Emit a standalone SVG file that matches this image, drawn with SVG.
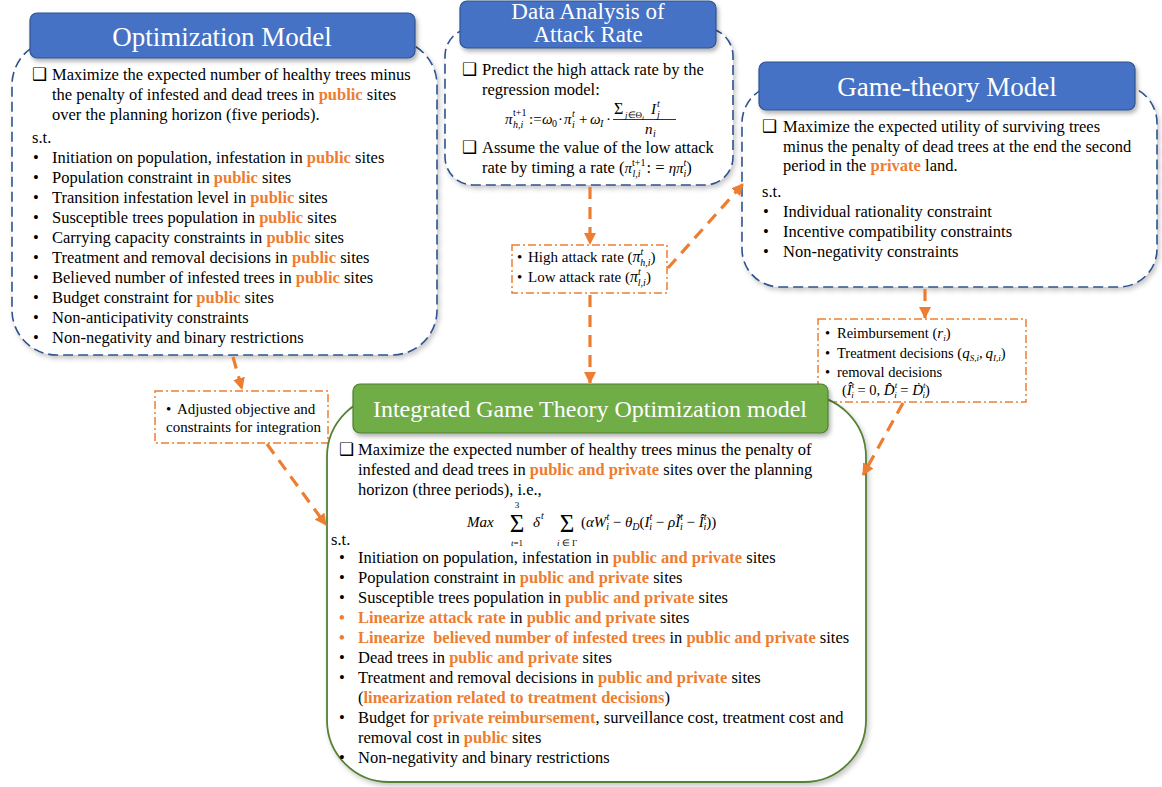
<svg xmlns="http://www.w3.org/2000/svg" width="1162" height="787" viewBox="0 0 1162 787">
  <defs>
    <style>
      .t { font-family: "Liberation Serif", "Times New Roman", serif; font-size: 16.5px; fill: #000; }
      .sm { font-size: 15px; }
      .xs { font-size: 14.5px; }
      .o { fill: #ED7D31; font-weight: bold; }
      .ttl { font-family: "Liberation Serif", "Times New Roman", serif; fill: #fff; text-anchor: middle; }
      .cb { font-family: "DejaVu Sans", sans-serif; font-size: 17px; fill: #000; }
      .m { font-family: "Liberation Serif", "Times New Roman", serif; font-style: italic; font-size: 15px; fill: #000; }
      .n { font-style: normal; }
      .s { font-size: 10px; }
      .ss { font-size: 9px; }
      .mid { text-anchor: middle; }
      .big { font-size: 25px; font-style: normal; }
      .blueTitle { fill: #4472C4; stroke: #2F528F; stroke-width: 1.2; }
      .greenTitle { fill: #70AD47; stroke: #507E32; stroke-width: 1.2; }
      .dashBody { fill: #fff; stroke: #2F528F; stroke-width: 1.6; stroke-dasharray: 10 5; }
      .solidBody { fill: #fff; stroke: #548235; stroke-width: 1.8; }
      .note { fill: #fff; stroke: #ED7D31; stroke-width: 1.5; stroke-dasharray: 8 3 2 3; }
      .link { fill: none; stroke: #ED7D31; stroke-width: 3.2; stroke-dasharray: 12 8; }
    </style>
    <filter id="shadow" x="-10%" y="-10%" width="125%" height="130%">
      <feDropShadow dx="2" dy="3" stdDeviation="2" flood-color="#000" flood-opacity="0.3"/>
    </filter>
    <filter id="softShadow" x="-10%" y="-10%" width="125%" height="130%">
      <feDropShadow dx="2" dy="3" stdDeviation="2.5" flood-color="#000" flood-opacity="0.22"/>
    </filter>
    <marker id="arrow" viewBox="0 0 12 12" refX="11" refY="6" markerWidth="12" markerHeight="12" markerUnits="userSpaceOnUse" orient="auto">
      <path d="M0,0 L12,6 L0,12 z" fill="#ED7D31"/>
    </marker>
  </defs>

  <rect width="1162" height="787" fill="#fff"/>

  <!-- Optimization model -->
  <g id="optimization-model">
    <rect class="dashBody" x="12" y="40" width="425" height="315" rx="45" filter="url(#softShadow)"/>
    <rect class="blueTitle" x="30" y="13" width="385" height="45" rx="7" filter="url(#shadow)"/>
    <text class="ttl" x="222" y="45.5" font-size="27">Optimization Model</text>
    <text class="cb" x="32" y="80">❑</text>
    <text class="t" x="52" y="80">Maximize the expected number of healthy trees minus</text>
    <text class="t" x="52" y="100">the penalty of infested and dead trees in <tspan class="o">public</tspan> sites</text>
    <text class="t" x="52" y="120">over the planning horizon (five periods).</text>
    <text class="t" x="32" y="143">s.t.</text>
    <text class="t" x="33" y="163">•</text><text class="t" x="52" y="163">Initiation on population, infestation in <tspan class="o">public</tspan> sites</text>
    <text class="t" x="33" y="183">•</text><text class="t" x="52" y="183">Population constraint in <tspan class="o">public</tspan> sites</text>
    <text class="t" x="33" y="203">•</text><text class="t" x="52" y="203">Transition infestation level in <tspan class="o">public</tspan> sites</text>
    <text class="t" x="33" y="223">•</text><text class="t" x="52" y="223">Susceptible trees population in <tspan class="o">public</tspan> sites</text>
    <text class="t" x="33" y="243">•</text><text class="t" x="52" y="243">Carrying capacity constraints in <tspan class="o">public</tspan> sites</text>
    <text class="t" x="33" y="263">•</text><text class="t" x="52" y="263">Treatment and removal decisions in <tspan class="o">public</tspan> sites</text>
    <text class="t" x="33" y="283">•</text><text class="t" x="52" y="283">Believed number of infested trees in <tspan class="o">public</tspan> sites</text>
    <text class="t" x="33" y="303">•</text><text class="t" x="52" y="303">Budget constraint for <tspan class="o">public</tspan> sites</text>
    <text class="t" x="33" y="323">•</text><text class="t" x="52" y="323">Non-anticipativity constraints</text>
    <text class="t" x="33" y="343">•</text><text class="t" x="52" y="343">Non-negativity and binary restrictions</text>
  </g>

  <!-- Data analysis of attack rate -->
  <g id="data-analysis">
    <rect class="dashBody" x="445" y="28" width="288" height="157" rx="28" filter="url(#softShadow)"/>
    <rect class="blueTitle" x="460" y="1" width="256" height="47" rx="7" filter="url(#shadow)"/>
    <text class="ttl" x="588" y="19" font-size="23">Data Analysis of</text>
    <text class="ttl" x="588" y="42" font-size="23">Attack Rate</text>
    <text class="cb" x="462" y="75">❑</text>
    <text class="t" x="482" y="75">Predict the high attack rate by the</text>
    <text class="t" x="482" y="95">regression model:</text>
    <!-- regression formula -->
    <text class="m" x="505" y="124">π</text>
    <text class="m s n" x="513" y="116">t+1</text>
    <text class="m s" x="513" y="128">h,i</text>
    <text class="m n" x="529" y="124">:=</text>
    <text class="m" x="542" y="124">ω</text>
    <text class="m s n" x="552" y="127">0</text>
    <text class="m n" x="558" y="124">·</text>
    <text class="m" x="564" y="124">π</text>
    <text class="m s" x="572" y="117">t</text>
    <text class="m s" x="572" y="128">i</text>
    <text class="m n" x="579" y="124">+</text>
    <text class="m" x="590" y="124">ω</text>
    <text class="m s" x="600" y="127">I</text>
    <text class="m n" x="606" y="124">·</text>
    <text class="m n" x="614" y="114" style="font-size:16px">Σ</text>
    <text class="m" x="625" y="118" style="font-size:9px">j<tspan class="n">∈</tspan><tspan class="n">Θ</tspan><tspan style="font-size:7px" dy="2">i</tspan></text>
    <text class="m" x="651" y="114">I</text>
    <text class="m s" x="657" y="107">t</text>
    <text class="m s" x="657" y="118">j</text>
    <line x1="613" y1="119.5" x2="676" y2="119.5" stroke="#000" stroke-width="0.8"/>
    <text class="m" x="645" y="134">n</text>
    <text class="m s" x="653" y="137">i</text>
    <text class="cb" x="462" y="153">❑</text>
    <text class="t" x="482" y="153">Assume the value of the low attack</text>
    <text class="t" x="482" y="173">rate by timing a rate (<tspan class="m">π</tspan><tspan class="m s n" dy="-7">t+1</tspan><tspan class="m s" dx="-13" dy="11">l,i</tspan><tspan dx="6" dy="-4">: = </tspan><tspan class="m">ηπ</tspan><tspan class="m s" dy="-7">t</tspan><tspan class="m s" dx="-3" dy="11">i</tspan><tspan dy="-4">)</tspan></text>
  </g>

  <!-- Game-theory model -->
  <g id="game-theory-model">
    <rect class="dashBody" x="742" y="85" width="415" height="202" rx="38" filter="url(#softShadow)"/>
    <rect class="blueTitle" x="759" y="62" width="376" height="48" rx="7" filter="url(#shadow)"/>
    <text class="ttl" x="947" y="95.5" font-size="27">Game-theory Model</text>
    <text class="cb" x="762" y="132">❑</text>
    <text class="t" x="783" y="132">Maximize the expected utility of surviving trees</text>
    <text class="t" x="783" y="152">minus the penalty of dead trees at the end the second</text>
    <text class="t" x="783" y="171">period in the <tspan class="o">private</tspan> land.</text>
    <text class="t" x="762" y="197">s.t.</text>
    <text class="t" x="763" y="217">•</text><text class="t" x="783" y="217">Individual rationality constraint</text>
    <text class="t" x="763" y="237">•</text><text class="t" x="783" y="237">Incentive compatibility constraints</text>
    <text class="t" x="763" y="257">•</text><text class="t" x="783" y="257">Non-negativity constraints</text>
  </g>

  <!-- Attack rate outputs -->
  <g id="attack-rate-note">
    <rect class="note" x="512" y="245" width="155" height="48"/>
    <text class="t sm" x="517" y="262">•</text>
    <text class="t sm" x="528" y="262">High attack rate (<tspan class="m" style="font-size:16px">π</tspan><tspan class="m s" dy="-7">t</tspan><tspan class="m s" dx="-3" dy="11">h,i</tspan><tspan dy="-4">)</tspan></text>
    <text class="t sm" x="517" y="282">•</text>
    <text class="t sm" x="528" y="282">Low attack rate (<tspan class="m" style="font-size:16px">π</tspan><tspan class="m s" dy="-7">t</tspan><tspan class="m s" dx="-3" dy="11">l,i</tspan><tspan dy="-4">)</tspan></text>
  </g>

  <!-- Contract outputs of the game -->
  <g id="contract-note">
    <rect class="note" x="818" y="319" width="208" height="83"/>
    <text class="t xs" x="825" y="338">•</text>
    <text class="t xs" x="837" y="338">Reimbursement (<tspan class="m">r</tspan><tspan class="m ss" dy="3">i</tspan><tspan dy="-3">)</tspan></text>
    <text class="t xs" x="825" y="358">•</text>
    <text class="t xs" x="837" y="358">Treatment decisions (<tspan class="m">q</tspan><tspan class="m ss" dy="3">S,i</tspan><tspan dy="-3">,</tspan><tspan class="m" dx="3">q</tspan><tspan class="m ss" dy="3">I,i</tspan><tspan dy="-3">)</tspan></text>
    <text class="t xs" x="825" y="377">•</text>
    <text class="t xs" x="837" y="377">removal decisions</text>
    <text class="t xs" x="842" y="395">(<tspan class="m">Î</tspan><tspan class="m ss" dy="-7">t</tspan><tspan class="m ss" dx="-3" dy="10">i</tspan><tspan dy="-3"> = 0, </tspan><tspan class="m">D̂</tspan><tspan class="m ss" dy="-7">t</tspan><tspan class="m ss" dx="-3" dy="10">i</tspan><tspan dy="-3"> = </tspan><tspan class="m">Ḋ</tspan><tspan class="m ss" dy="-7">t</tspan><tspan class="m ss" dx="-3" dy="10">i</tspan><tspan dy="-3">)</tspan></text>
  </g>

  <!-- Adjustments for integration -->
  <g id="adjust-note">
    <rect class="note" x="155" y="391" width="173" height="52"/>
    <text class="t" x="166" y="414" style="font-size:15px">•</text>
    <text class="t" x="177" y="414" style="font-size:15px">Adjusted objective and</text>
    <text class="t" x="166" y="432" style="font-size:15px">constraints for integration</text>
  </g>

  <!-- Integrated game theory optimization model -->
  <g id="integrated-model">
    <rect class="solidBody" x="327" y="395" width="539" height="387" rx="62" filter="url(#softShadow)"/>
    <rect class="greenTitle" x="353" y="384" width="475" height="49" rx="7" filter="url(#shadow)"/>
    <text class="ttl" x="590" y="417" font-size="24">Integrated Game Theory Optimization model</text>
    <text class="cb" x="339" y="455">❑</text>
    <text class="t" x="358" y="455">Maximize the expected number of healthy trees minus the penalty of</text>
    <text class="t" x="358" y="475">infested and dead trees in <tspan class="o">public and private</tspan> sites over the planning</text>
    <text class="t" x="358" y="495">horizon (three periods), i.e.,</text>
    <!-- objective -->
    <text class="m" x="467" y="527">Max</text>
    <text class="m big mid" x="517" y="532">Σ</text>
    <text class="m ss n mid" x="517" y="507.5">3</text>
    <text class="m ss mid" x="517" y="546.2">t<tspan class="n">=1</tspan></text>
    <text class="m" x="533" y="527">δ</text>
    <text class="m s" x="541" y="519">t</text>
    <text class="m big mid" x="567" y="532">Σ</text>
    <text class="m ss mid" x="567" y="546.2">i <tspan class="n">∈ Γ</tspan></text>
    <text class="m" x="581" y="527"><tspan class="n">(</tspan>αW<tspan class="s" dy="-7">t</tspan><tspan class="s" dx="-3" dy="10">i</tspan><tspan class="n" dy="-3"> − </tspan>θ<tspan class="s" dy="3">D</tspan><tspan class="n" dy="-3">(</tspan>I<tspan class="s" dy="-7">t</tspan><tspan class="s" dx="-3" dy="10">i</tspan><tspan class="n" dy="-3">  −  </tspan>ρĨ<tspan class="s" dy="-7">t</tspan><tspan class="s" dx="-3" dy="10">i</tspan><tspan class="n" dy="-3"> − </tspan>Î<tspan class="s" dy="-7">t</tspan><tspan class="s" dx="-3" dy="10">i</tspan><tspan class="n" dy="-3">))</tspan></text>
    <text class="t" x="331" y="545">s.t.</text>
    <text class="t" x="339" y="563">•</text><text class="t" x="358" y="563">Initiation on population, infestation in <tspan class="o">public and private</tspan> sites</text>
    <text class="t" x="339" y="583">•</text><text class="t" x="358" y="583">Population constraint in <tspan class="o">public and private</tspan> sites</text>
    <text class="t" x="339" y="603">•</text><text class="t" x="358" y="603">Susceptible trees population in <tspan class="o">public and private</tspan> sites</text>
    <text class="t o" x="339" y="623">•</text><text class="t" x="358" y="623"><tspan class="o">Linearize attack rate</tspan> in <tspan class="o">public and private</tspan> sites</text>
    <text class="t o" x="339" y="643">•</text><text class="t" x="358" y="643"><tspan class="o">Linearize&#160; believed number of infested trees</tspan> in <tspan class="o">public and private</tspan> sites</text>
    <text class="t" x="339" y="663">•</text><text class="t" x="358" y="663">Dead trees in <tspan class="o">public and private</tspan> sites</text>
    <text class="t" x="339" y="683">•</text><text class="t" x="358" y="683">Treatment and removal decisions in <tspan class="o">public and private</tspan> sites</text>
    <text class="t" x="358" y="703">(<tspan class="o">linearization related to treatment decisions</tspan>)</text>
    <text class="t" x="339" y="723">•</text><text class="t" x="358" y="723">Budget for <tspan class="o">private reimbursement</tspan>, surveillance cost, treatment cost and</text>
    <text class="t" x="358" y="743">removal cost in <tspan class="o">public</tspan> sites</text>
    <text class="t" x="339" y="763">•</text><text class="t" x="358" y="763">Non-negativity and binary restrictions</text>
  </g>

  <!-- Connectors -->
  <g id="connectors">
    <path class="link" d="M233,357 L242,389" marker-end="url(#arrow)"/>
    <path class="link" d="M267,444 L326,525" marker-end="url(#arrow)"/>
    <path class="link" d="M590,187 L590,244" marker-end="url(#arrow)"/>
    <path class="link" d="M590,295 L590,383" marker-end="url(#arrow)"/>
    <path class="link" d="M668,268 L743,184" marker-end="url(#arrow)"/>
    <path class="link" d="M925,289 L925,318" marker-end="url(#arrow)"/>
    <path class="link" d="M903,403 L863,475" marker-end="url(#arrow)"/>
  </g>
</svg>
